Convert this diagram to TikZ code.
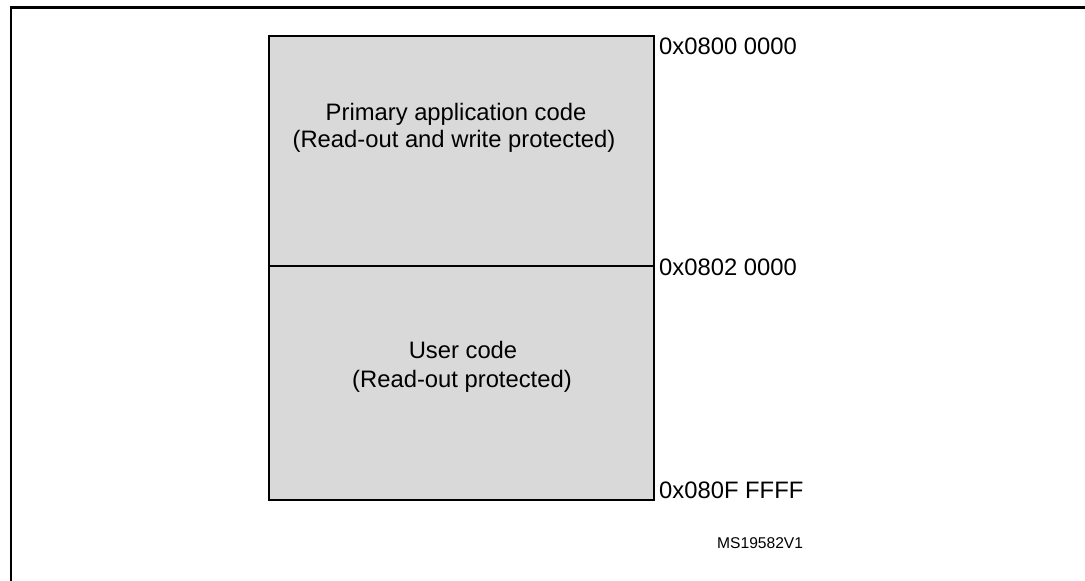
\documentclass[tikz,border=0pt]{standalone}
\usepackage{fontspec}
\setmainfont{Liberation Sans}
\begin{document}
\begin{tikzpicture}[x=1pt,y=-1pt,
  membox/.style={draw=black,line width=2.4pt,fill=memgray,minimum width=385pt,inner sep=0pt,outer sep=0pt,anchor=north west},
  boxtext/.style={font=\fontsize{23.8}{27}\selectfont,anchor=base,inner sep=0pt},
  addr/.style={font=\fontsize{23.8}{27}\selectfont,anchor=base west,inner sep=0pt},
  refid/.style={font=\fontsize{15.6}{18}\selectfont,anchor=base west,inner sep=0pt}]
\definecolor{memgray}{RGB}{217,217,217}
\useasboundingbox (0,0) rectangle (1085,581);
\begin{scope}
\clip (0,0) rectangle (1085,581);
\draw[line width=2.4pt] (1100,7.5) -| (11,600);
\end{scope}
\node[membox,minimum height=230pt] (prim) at (269,36) {};
\node[membox,minimum height=234pt] (user) at (269,266) {};
\node[boxtext] (t1) at (456,120) {Primary application code};
\node[boxtext] (t2) at (454,147) {(Read-out and write protected)};
\node[boxtext] (t3) at (463,358) {User code};
\node[boxtext] (t4) at (462,387) {(Read-out protected)};
\node[addr] (a1) at (659,54) {0x0800 0000};
\node[addr] (a2) at (659,275) {0x0802 0000};
\node[addr] (a3) at (659,498) {0x080F FFFF};
\node[refid] (id) at (717,548) {MS19582V1};
\end{tikzpicture}
\end{document}
